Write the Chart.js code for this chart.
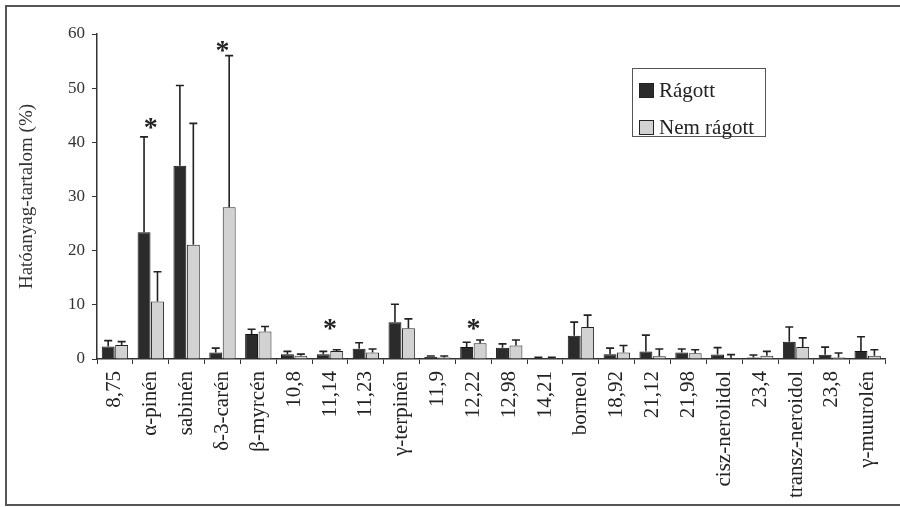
<!DOCTYPE html>
<html>
<head>
<meta charset="utf-8">
<script src="https://cdn.jsdelivr.net/npm/chart.js@4"></script>
<style>
  body { margin: 0; background: #fff; }
  #wrap { position: relative; width: 900px; height: 507px; overflow: hidden; }
  #frame { position: absolute; left: 5px; top: 5px; width: 900px; height: 501px; border: 2px solid #555; box-sizing: border-box; }
  #legend { position: absolute; left: 632px; top: 68px; width: 134px; height: 69px; border: 1px solid #555;
    box-sizing: border-box; font-family: 'Liberation Serif', serif; font-size: 21px; color: #222; padding: 7px 0 0 6px; }
  .item { display: flex; align-items: center; height: 28px; margin-bottom: 9px; }
  .sw { width: 13px; height: 13px; border: 1px solid #222; margin-right: 5px; }
</style>
</head>
<body>
<div id="wrap">
  <div id="frame"></div>
  <canvas id="chart" width="900" height="507"></canvas>
  <div id="legend"></div>
</div>
<script>
// categories
const labels = ['8,75', 'α-pinén', 'sabinén', 'δ-3-carén', 'β-myrcén', '10,8', '11,14', '11,23',
  'γ-terpinén', '11,9', '12,22', '12,98', '14,21', 'borneol', '18,92', '21,12', '21,98',
  'cisz-nerolidol', '23,4', 'transz-neroidol', '23,8', 'γ-muurolén'];

const seriesNames = ['Rágott', 'Nem rágott'];

// means (%)
const ragott = [2.3, 23.4, 35.7, 1.2, 4.6, 0.9, 0.9, 1.9, 6.8, 0.4, 2.2, 2.1, 0.15, 4.3,
  0.9, 1.4, 1.2, 0.85, 0.3, 3.2, 0.8, 1.5];
const nemRagott = [2.6, 10.6, 21.1, 28.0, 5.1, 0.6, 1.5, 1.2, 5.7, 0.3, 2.9, 2.5, 0.2, 5.9,
  1.2, 0.5, 1.05, 0.1, 0.6, 2.2, 0.3, 0.6];

// upper end of the error bars (%)
const ragottErr = [3.4, 41, 50.5, 2.0, 5.5, 1.4, 1.4, 3.0, 10.1, 0.55, 3.1, 2.8, 0.3, 6.8,
  2.0, 4.4, 1.85, 2.1, 0.75, 5.9, 2.2, 4.1];
const nemRagottErr = [3.2, 16.1, 43.5, 56, 6.0, 0.9, 1.7, 1.85, 7.4, 0.55, 3.5, 3.5, 0.3, 8.1,
  2.5, 1.85, 1.7, 0.8, 1.4, 3.9, 1.1, 1.7];

// significance marks: category index and height
const starCats = [1, 3, 6, 10];
const starVals = [44, 58.2, 6.9, 6.9];

const yTicks = [0, 10, 20, 30, 40, 50, 60];

const colors = ['#2b2b2b', '#d2d2d2'];

const errorBars = {
  id: 'errorBars',
  afterDatasetsDraw(chart) {
    const ctx = chart.ctx;
    const y = chart.scales.y;
    const errs = [ragottErr, nemRagottErr];
    ctx.save();
    ctx.strokeStyle = '#222';
    ctx.lineWidth = 1.6;
    chart.data.datasets.forEach((ds, i) => {
      const meta = chart.getDatasetMeta(i);
      meta.data.forEach((bar, j) => {
        const top = y.getPixelForValue(errs[i][j]);
        ctx.beginPath();
        ctx.moveTo(bar.x, bar.y);
        ctx.lineTo(bar.x, top);
        ctx.moveTo(bar.x - 4, top);
        ctx.lineTo(bar.x + 4, top);
        ctx.stroke();
      });
    });
    // asterisks
    ctx.fillStyle = '#222';
    ctx.font = 'bold 28px "Liberation Serif"';
    ctx.textAlign = 'center';
    ctx.textBaseline = 'alphabetic';
    starCats.forEach((c, k) => {
      const px = chart.scales.x.getPixelForValue(c);
      const py = y.getPixelForValue(starVals[k]);
      ctx.fillText('*', px, py + 15);
    });
    ctx.restore();
  }
};

const chart = new Chart(document.getElementById('chart'), {
  type: 'bar',
  data: {
    labels: labels,
    datasets: [
      { label: seriesNames[0], data: ragott, backgroundColor: colors[0], borderColor: '#111', borderWidth: 1 },
      { label: seriesNames[1], data: nemRagott, backgroundColor: colors[1], borderColor: '#222', borderWidth: 1 }
    ]
  },
  options: {
    responsive: false,
    animation: false,
    devicePixelRatio: 1,
    layout: { padding: { left: 0, top: 34, right: 5, bottom: 0 } },
    datasets: { bar: { categoryPercentage: 0.75, barPercentage: 0.96 } },
    plugins: { legend: { display: false }, tooltip: { enabled: false } },
    scales: {
      x: {
        afterFit: (s) => { s.height = 148; },
        grid: { display: true, drawOnChartArea: false, offset: true, tickLength: 5, color: '#333', lineWidth: 1 },
        border: { display: true, color: '#333', width: 1.5 },
        ticks: {
          autoSkip: false, minRotation: 90, maxRotation: 90, padding: 7, color: '#222',
          font: { family: 'Liberation Serif', size: 21 }
        }
      },
      y: {
        min: 0, max: 60,
        afterFit: (s) => { s.width = 97; },
        afterBuildTicks: (s) => { s.ticks = yTicks.map(v => ({ value: v })); },
        grid: { display: true, drawOnChartArea: false, tickLength: 5, color: '#333', lineWidth: 1 },
        border: { display: true, color: '#333', width: 1.5 },
        ticks: { padding: 7, color: '#333', font: { family: 'Liberation Serif', size: 17 } },
        title: {
          display: true, text: 'Hatóanyag-tartalom (%)', color: '#333',
          font: { family: 'Liberation Serif', size: 19 }, padding: { top: 16, bottom: 0 }
        }
      }
    }
  },
  plugins: [errorBars]
});

// html legend
const legend = document.getElementById('legend');
seriesNames.forEach((name, i) => {
  const item = document.createElement('div');
  item.className = 'item';
  item.innerHTML = '<span class="sw" style="background:' + colors[i] + '"></span>' + name;
  legend.appendChild(item);
});
</script>
</body>
</html>
